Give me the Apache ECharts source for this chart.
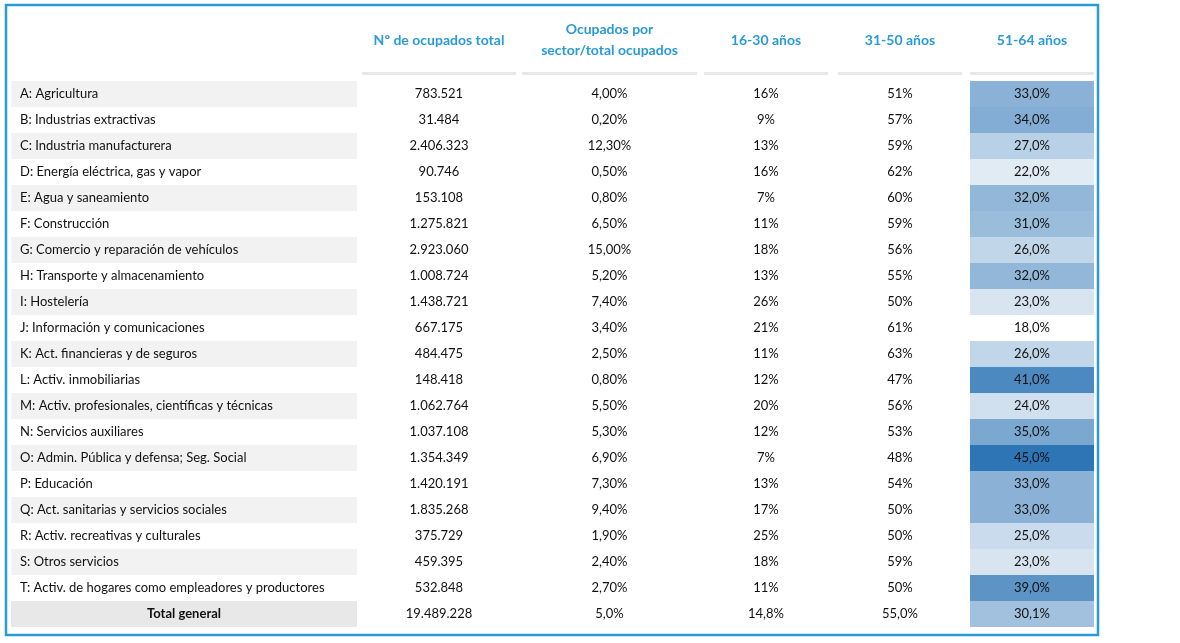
<!DOCTYPE html>
<html>
<head>
<meta charset="utf-8">
<script src="https://cdn.jsdelivr.net/npm/echarts@6/dist/echarts.min.js"></script>
<style>html,body{margin:0;padding:0;background:#fff}#chart{width:1180px;height:643px}</style>
</head>
<body>
<div id="chart"></div>
<script>
var headers = ["", "Nº de ocupados total", "Ocupados por\nsector/total ocupados", "16-30 años", "31-50 años", "51-64 años"]
var sectors = [
  "A: Agricultura", "B: Industrias extractivas", "C: Industria manufacturera", "D: Energía eléctrica, gas y vapor",
  "E: Agua y saneamiento", "F: Construcción", "G: Comercio y reparación de vehículos", "H: Transporte y almacenamiento",
  "I: Hostelería", "J: Información y comunicaciones", "K: Act. financieras y de seguros", "L: Activ. inmobiliarias",
  "M: Activ. profesionales, científicas y técnicas", "N: Servicios auxiliares", "O: Admin. Pública y defensa; Seg. Social",
  "P: Educación", "Q: Act. sanitarias y servicios sociales", "R: Activ. recreativas y culturales", "S: Otros servicios",
  "T: Activ. de hogares como empleadores y productores", "Total general"
]
var ocupados = ["783.521", "31.484", "2.406.323", "90.746", "153.108", "1.275.821", "2.923.060", "1.008.724", "1.438.721", "667.175",
  "484.475", "148.418", "1.062.764", "1.037.108", "1.354.349", "1.420.191", "1.835.268", "375.729", "459.395", "532.848", "19.489.228"]
var porSector = ["4,00%", "0,20%", "12,30%", "0,50%", "0,80%", "6,50%", "15,00%", "5,20%", "7,40%", "3,40%",
  "2,50%", "0,80%", "5,50%", "5,30%", "6,90%", "7,30%", "9,40%", "1,90%", "2,40%", "2,70%", "5,0%"]
var edad16 = ["16%", "9%", "13%", "16%", "7%", "11%", "18%", "13%", "26%", "21%",
  "11%", "12%", "20%", "12%", "7%", "13%", "17%", "25%", "18%", "11%", "14,8%"]
var edad31 = ["51%", "57%", "59%", "62%", "60%", "59%", "56%", "55%", "50%", "61%",
  "63%", "47%", "56%", "53%", "48%", "54%", "50%", "50%", "59%", "50%", "55,0%"]
var edad51 = [33, 34, 27, 22, 32, 31, 26, 32, 23, 18, 26, 41, 24, 35, 45, 33, 33, 25, 23, 39, 30.1]

// column layout [left, right] in pixels
var cols = [[11, 357], [362, 516], [522, 697], [704, 828], [838, 962], [970, 1094]]
var FONT = "Lato, 'Noto Sans', sans-serif"

var cellData = []
sectors.forEach(function (s, i) {
  var texts = [s, ocupados[i], porSector[i], edad16[i], edad31[i]]
  texts.forEach(function (t, c) { cellData.push([c, i, t, 0]) })
  cellData.push([5, i, edad51[i].toFixed(1).replace(".", ",") + "%", edad51[i]])
})

function lerp(v) {
  var t = Math.max(0, Math.min(1, (v - 18) / 27))
  var r = Math.round(255 - t * (255 - 46)), g = Math.round(255 - t * (255 - 117)), b = Math.round(255 - t * (255 - 182))
  return "rgb(" + r + "," + g + "," + b + ")"
}

var chart = echarts.init(document.getElementById("chart"))
var option = {
  animation: false,
  grid: { left: 0, right: 0, top: 81, height: 546 },
  xAxis: { type: "value", min: 0, max: 1180, show: false },
  yAxis: { type: "category", data: sectors, inverse: true, show: false },
  graphic: [
    { type: "rect", shape: { x: 6, y: 5, width: 1092, height: 630 }, style: { fill: "none", stroke: "#2a9ad6", lineWidth: 2.5 } }
  ].concat(headers.slice(1).map(function (h, k) {
    var c = cols[k + 1]
    return { type: "group", children: [
      { type: "text", x: (c[0] + c[1]) / 2, y: 40, style: { text: h, fill: "#2a9ad6", font: "bold 14px " + FONT, align: "center", verticalAlign: "middle", lineHeight: 21 } },
      { type: "rect", shape: { x: c[0], y: 72, width: c[1] - c[0], height: 3 }, style: { fill: "#e8e8e8" } }
    ] }
  })),
  series: [{
    type: "custom",
    data: cellData,
    renderItem: function (params, api) {
      var c = api.value(0), row = api.value(1)
      var text = cellData[params.dataIndex][2]
      var v = api.value(3)
      var y = api.coord([0, row])[1]
      var h = api.size([0, 1])[1]
      var x0 = cols[c][0], x1 = cols[c][1]
      var isTotal = row === sectors.length - 1
      var fill = null
      if (c === 0 && (row % 2 === 0 || isTotal)) fill = isTotal ? "#e8e8e8" : "#f2f2f2"
      if (c === 5) fill = lerp(v)
      var children = []
      if (fill) children.push({ type: "rect", shape: { x: x0, y: y - h / 2, width: x1 - x0, height: h }, style: { fill: fill } })
      var left = c === 0 && !isTotal
      children.push({ type: "text", x: left ? x0 + 9 : (x0 + x1) / 2, y: y,
        style: { text: text, fill: "#111", font: (isTotal && c === 0 ? "bold " : "") + "13px " + FONT,
          align: left ? "left" : "center", verticalAlign: "middle" } })
      return { type: "group", children: children }
    }
  }]
}
chart.setOption(option)
window.addEventListener("resize", function () { chart.resize() })
</script>
</body>
</html>
